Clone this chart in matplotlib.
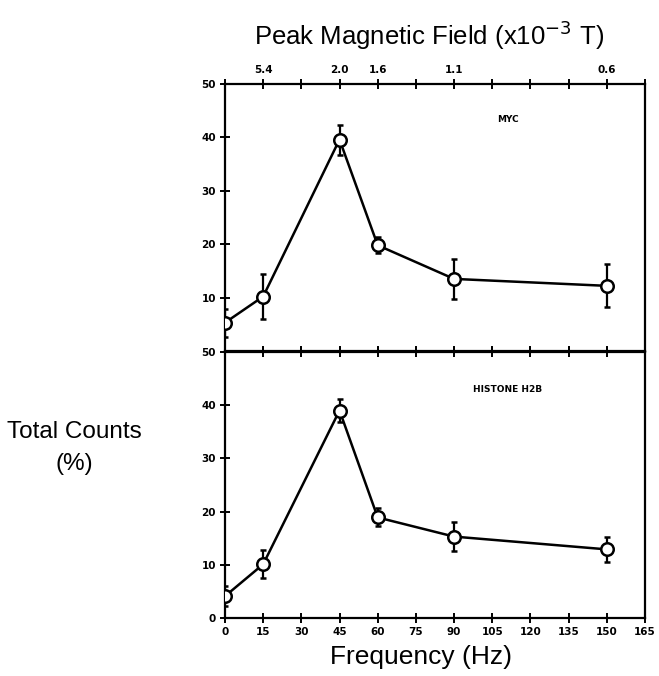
import numpy as np
import matplotlib
matplotlib.use("Agg")
import matplotlib.pyplot as plt

# frequency (Hz)
freq = [0, 15, 45, 60, 90, 150]

# MYC
myc = [5.3, 10.2, 39.6, 19.8, 13.5, 12.2]
myc_err = [2.6, 4.2, 2.8, 1.5, 3.7, 4.0]

# histone H2B
h2b = [4.1, 10.1, 39.0, 18.9, 15.3, 12.9]
h2b_err = [1.9, 2.6, 2.2, 1.7, 2.8, 2.3]

xticks = list(range(0, 166, 15))
# peak magnetic field labels on top axis
field_pos = [15, 45, 60, 90, 150]
field_lab = ["5.4", "2.0", "1.6", "1.1", "0.6"]

fig = plt.figure(figsize=(6.59, 6.76), dpi=100)
ax1 = fig.add_axes([0.3414, 0.4808, 0.6373, 0.3949])
ax2 = fig.add_axes([0.3414, 0.0858, 0.6373, 0.3935])

def style(ax):
    ax.set_xlim(0, 165)
    ax.set_ylim(0, 50)
    for s in ax.spines.values():
        s.set_linewidth(1.6)
    ax.tick_params(direction="inout", length=7, width=1.4, top=True,
                   labelsize=7.5, pad=3)
    ax.set_xticks(xticks)

def draw(ax, y, e):
    ax.errorbar(freq, y, yerr=e, color="black", lw=1.8, marker="o", ms=9,
                mfc="white", mec="black", mew=1.8, capsize=2.5, capthick=1.8,
                elinewidth=1.6, zorder=3)

# top panel: MYC
draw(ax1, myc, myc_err)
style(ax1)
ax1.set_yticks([10, 20, 30, 40, 50])
ax1.tick_params(labelbottom=False, labeltop=True)
lab = [field_lab[field_pos.index(v)] if v in field_pos else "" for v in xticks]
ax1.set_xticklabels(lab, fontweight="bold")
ax1.set_yticklabels(["10", "20", "30", "40", "50"], fontweight="bold")
ax1.text(111, 43.3, "MYC", fontsize=6.5, fontweight="bold", ha="center", va="center")

# bottom panel: histone H2B
draw(ax2, h2b, h2b_err)
style(ax2)
ax2.set_yticks([0, 10, 20, 30, 40, 50])
ax2.set_xticklabels([str(v) for v in xticks], fontweight="bold")
ax2.set_yticklabels(["0", "10", "20", "30", "40", "50"], fontweight="bold")
ax2.text(111, 43, "HISTONE H2B", fontsize=6.5, fontweight="bold", ha="center", va="center")

fig.text(0.651, 0.948, "Peak Magnetic Field (x10$^{-3}$ T)", fontsize=18.5,
         ha="center", va="center", family="Liberation Sans")
fig.text(0.639, 0.028, "Frequency (Hz)", fontsize=19, ha="center",
         va="center", family="Liberation Sans")
fig.text(0.113, 0.337, "Total Counts\n(%)", fontsize=17.5, ha="center",
         va="center", linespacing=1.6, family="Liberation Sans")

fig.savefig("out.png", dpi=100)
